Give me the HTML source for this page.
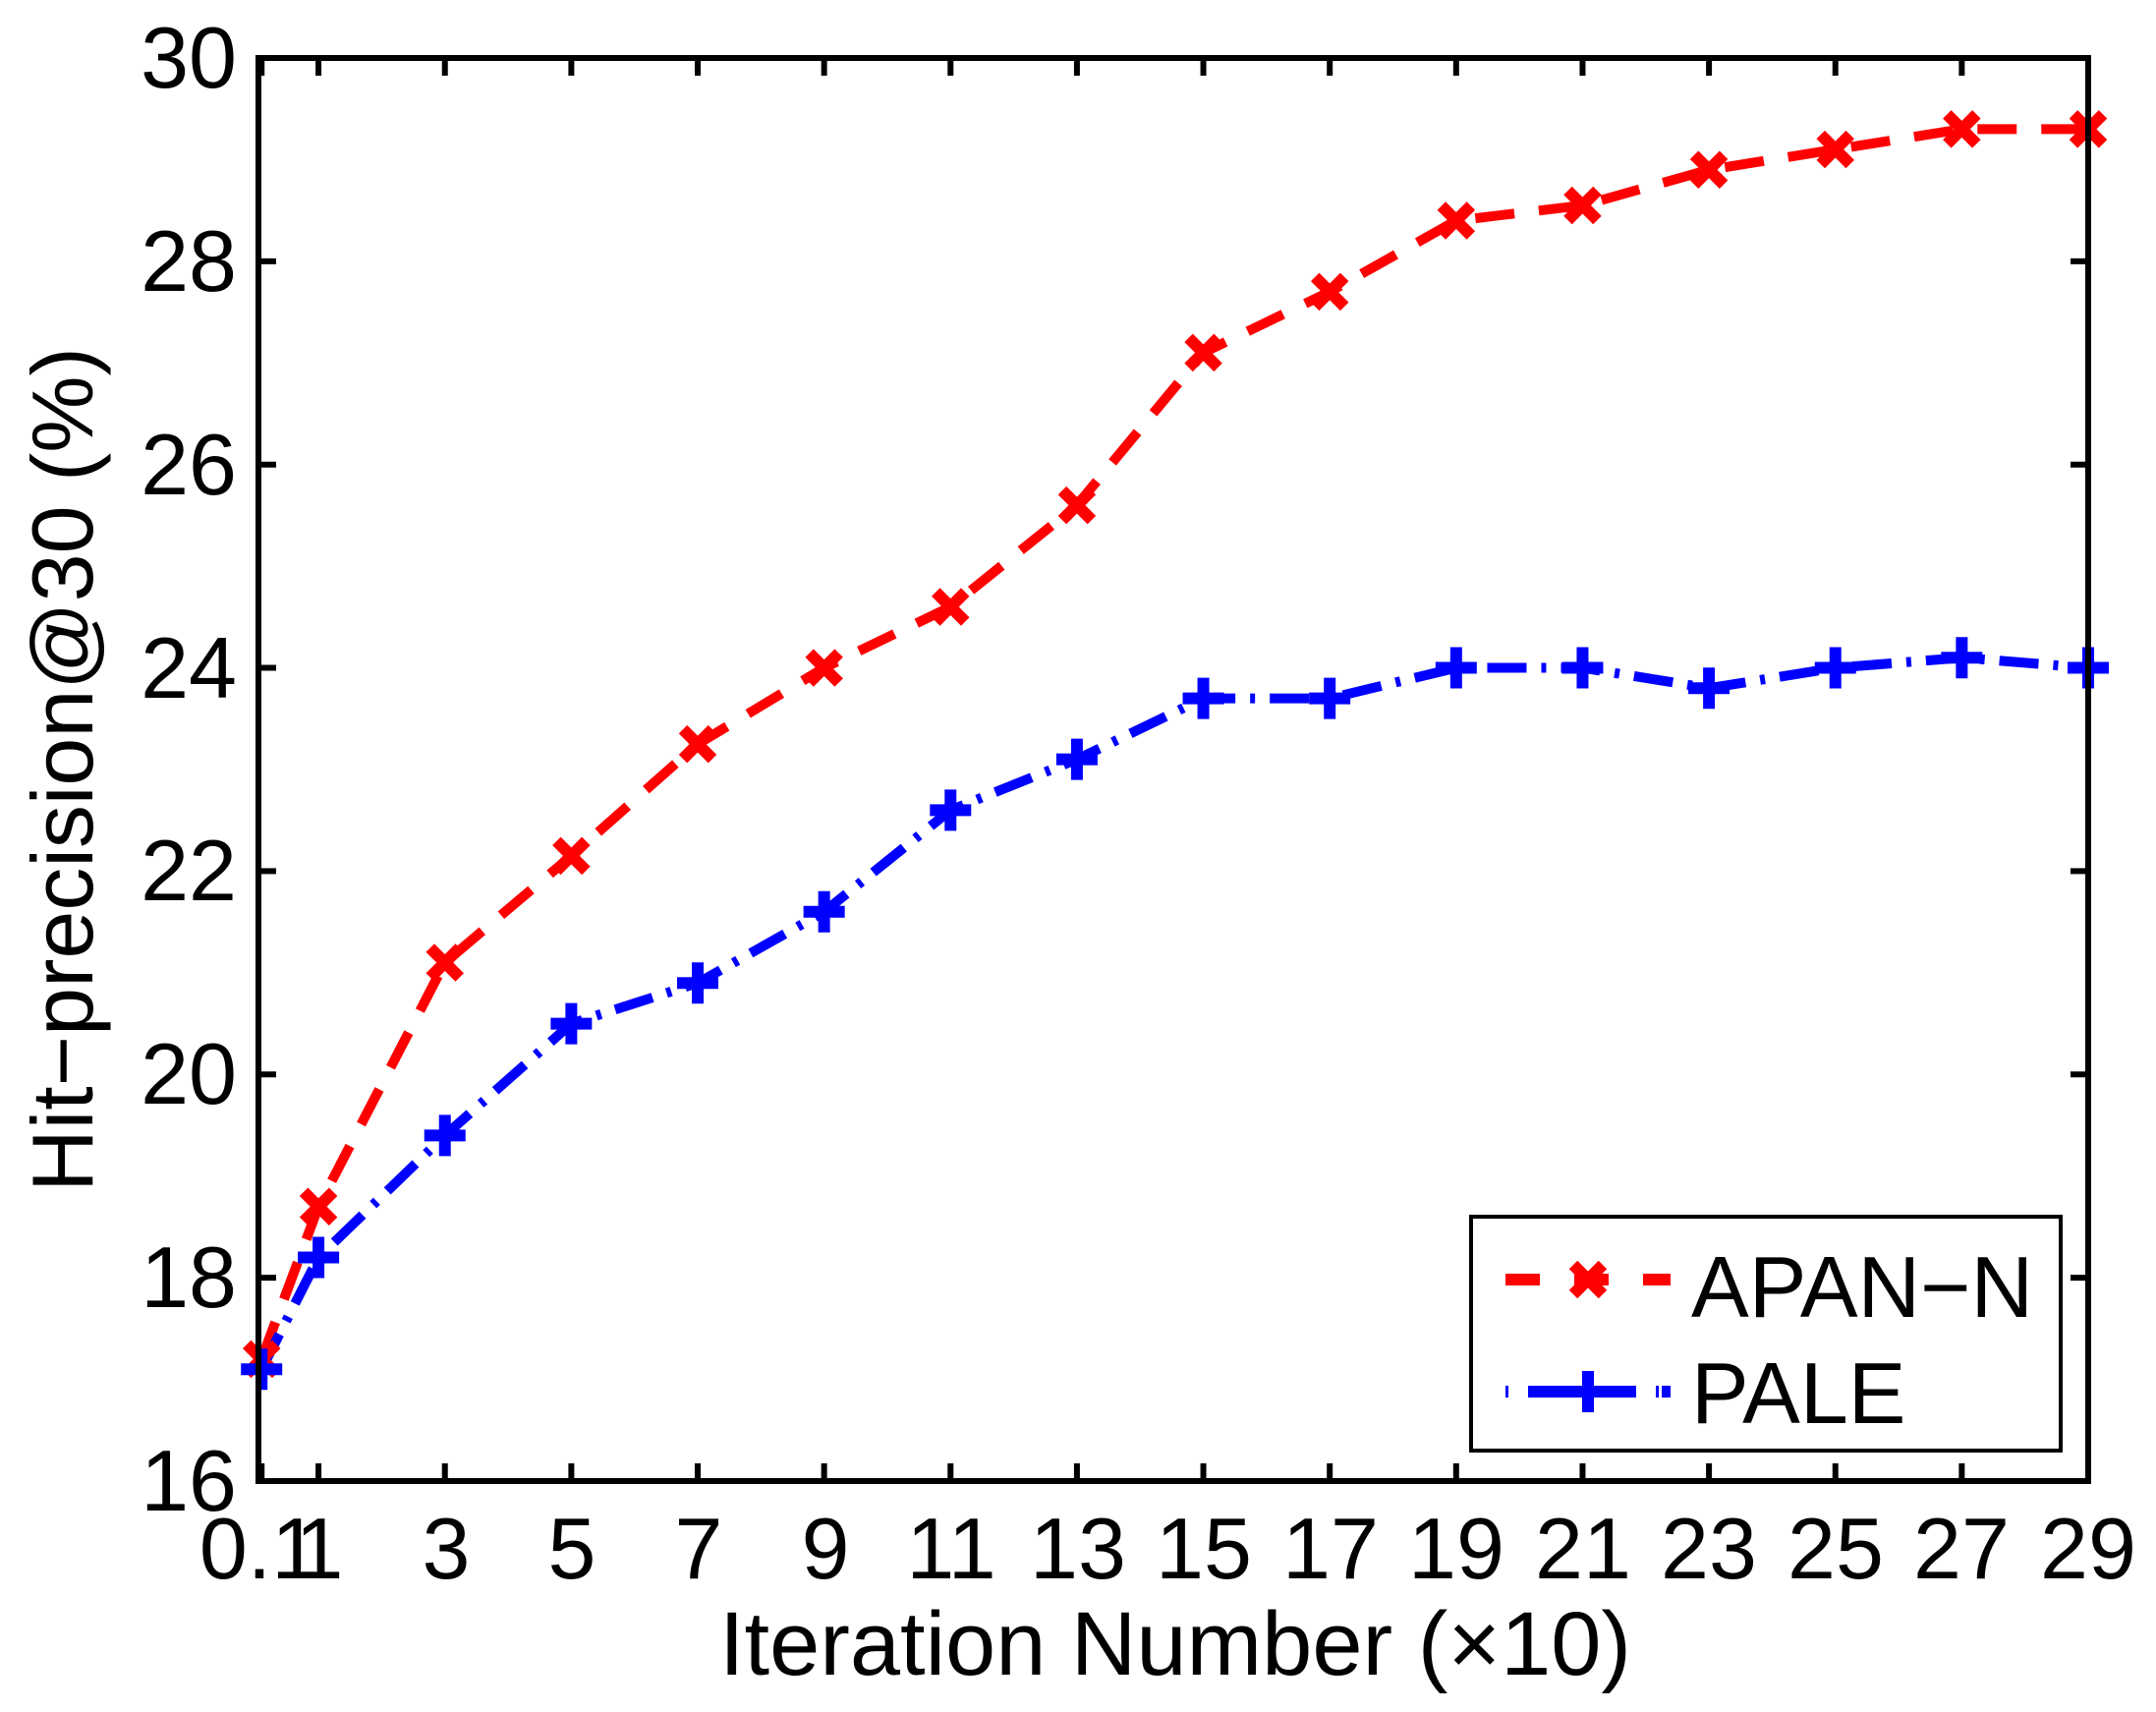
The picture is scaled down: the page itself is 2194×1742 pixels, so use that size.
<!DOCTYPE html>
<html><head><meta charset="utf-8"><style>
html,body{margin:0;padding:0;background:#fff;}
svg{display:block;font-family:"Liberation Sans",Arial,sans-serif;}
</style></head><body>
<svg id="s" width="2194" height="1742" viewBox="0 0 2194 1742" xmlns="http://www.w3.org/2000/svg">
<rect width="2194" height="1742" fill="#fff"/>
<g id="ticks" stroke="#000" stroke-width="6"></g>
<g id="series"></g>
<rect x="263" y="59" width="1862" height="1448" fill="none" stroke="#000" stroke-width="6"/>
<g font-size="88" fill="#000" text-anchor="end">
<text x="241" y="1537">16</text>
<text x="241" y="1330">18</text>
<text x="241" y="1123">20</text>
<text x="241" y="916">22</text>
<text x="241" y="710">24</text>
<text x="241" y="503">26</text>
<text x="241" y="296">28</text>
<text x="241" y="89">30</text>
</g>
<g id="xl" font-size="88" fill="#000" text-anchor="middle">
<text x="264" y="1606">0.1</text>
<text x="325" y="1606">1</text>
<text x="454" y="1606">3</text>
<text x="582" y="1606">5</text>
<text x="711" y="1606">7</text>
<text x="840" y="1606">9</text>
<text x="968" y="1606">11</text>
<text x="1097" y="1606">13</text>
<text x="1225" y="1606">15</text>
<text x="1354" y="1606">17</text>
<text x="1482" y="1606">19</text>
<text x="1611" y="1606">21</text>
<text x="1739" y="1606">23</text>
<text x="1868" y="1606">25</text>
<text x="1996" y="1606">27</text>
<text x="2125" y="1606">29</text>
</g>
<text x="1196" y="1704" font-size="92" text-anchor="middle">Iteration Number (×10)</text>
<text transform="translate(94,783) rotate(-90)" font-size="88" text-anchor="middle">Hit−precision@30 (%)</text>
<rect x="1497" y="1238" width="600" height="238" fill="#fff" stroke="#000" stroke-width="4"/>
<g id="leg"></g>
<text x="1721" y="1340" font-size="88">APAN−N</text>
<text x="1721" y="1448" font-size="88">PALE</text>
</svg>
<script>
var NS="http://www.w3.org/2000/svg";
function X(v){return 263+(v-0.05)/28.95*1862;}
function Y(v){return 1507-(v-16)*103.43;}
function el(p,t,a){var e=document.createElementNS(NS,t);for(var k in a)e.setAttribute(k,a[k]);p.appendChild(e);return e;}
var xs=[0.1,1,3,5,7,9,11,13,15,17,19,21,23,25,27,29];
var tg=document.getElementById('ticks');
xs.forEach(function(v){var x=X(v);el(tg,'line',{x1:x,y1:1507,x2:x,y2:1489});el(tg,'line',{x1:x,y1:59,x2:x,y2:77});});
for(var y=16;y<=30;y+=2){var yy=Y(y);el(tg,'line',{x1:263,y1:yy,x2:281,y2:yy});el(tg,'line',{x1:2125,y1:yy,x2:2107,y2:yy});}
var A=[17.2,18.7,21.1,22.15,23.25,24.0,24.6,25.6,27.1,27.7,28.4,28.55,28.9,29.1,29.3,29.3];
var P=[17.1,18.2,19.4,20.5,20.9,21.6,22.6,23.1,23.7,23.7,24.0,24.0,23.8,24.0,24.1,24.0];
var sg=document.getElementById('series');
function pts(d){return xs.map(function(v,i){return X(v)+','+Y(d[i]);}).join(' ');}
function xm(g,x,y){var s=15;el(g,'path',{d:'M'+(x-s)+' '+(y-s)+'L'+(x+s)+' '+(y+s)+'M'+(x-s)+' '+(y+s)+'L'+(x+s)+' '+(y-s),stroke:'#f00','stroke-width':12,fill:'none'});}
function pm(g,x,y){var s=21;el(g,'path',{d:'M'+(x-s)+' '+y+'L'+(x+s)+' '+y+'M'+x+' '+(y-s)+'L'+x+' '+(y+s),stroke:'#00f','stroke-width':12,fill:'none'});}
el(sg,'polyline',{points:pts(A),fill:'none',stroke:'#f00','stroke-width':10,'stroke-dasharray':'40 25'});
el(sg,'polyline',{points:pts(P),fill:'none',stroke:'#00f','stroke-width':10,'stroke-dasharray':'40 15 5 15'});
xs.forEach(function(v,i){xm(sg,X(v),Y(A[i]));});
xs.forEach(function(v,i){pm(sg,X(v),Y(P[i]));});
var lg=document.getElementById('leg');
el(lg,'line',{x1:1532,y1:1302,x2:1700,y2:1302,stroke:'#f00','stroke-width':12,'stroke-dasharray':'35 35'});
xm(lg,1616,1302);
el(lg,'line',{x1:1532,y1:1416,x2:1700,y2:1416,stroke:'#00f','stroke-width':12,'stroke-dasharray':'3 20 110 20 3'});
pm(lg,1616,1416);
</script>
</body></html>
